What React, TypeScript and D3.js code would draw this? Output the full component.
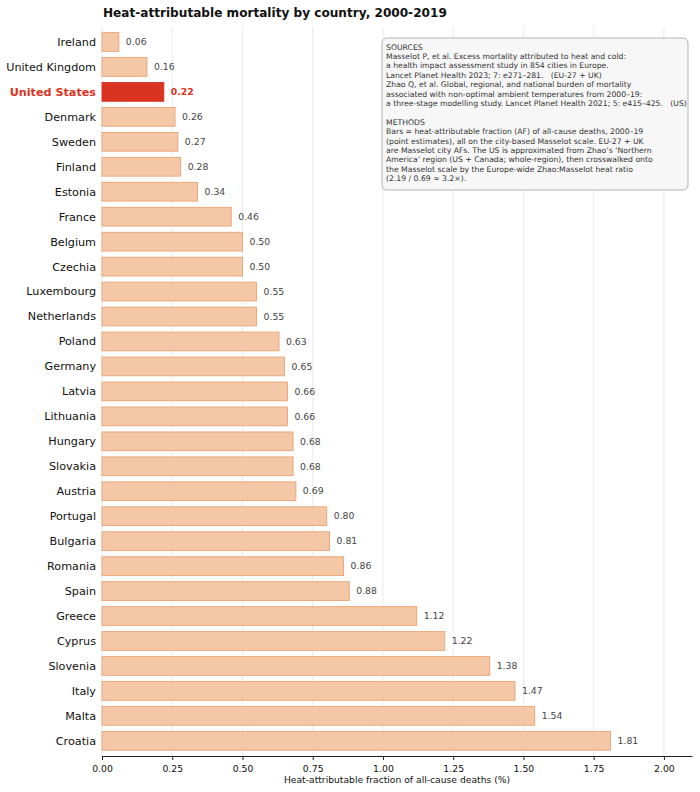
import { useEffect, useRef } from 'react';
import * as d3 from 'd3';

const countries = [
  'Ireland', 'United Kingdom', 'United States', 'Denmark', 'Sweden', 'Finland', 'Estonia',
  'France', 'Belgium', 'Czechia', 'Luxembourg', 'Netherlands', 'Poland', 'Germany', 'Latvia',
  'Lithuania', 'Hungary', 'Slovakia', 'Austria', 'Portugal', 'Bulgaria', 'Romania', 'Spain',
  'Greece', 'Cyprus', 'Slovenia', 'Italy', 'Malta', 'Croatia',
];
const heatAF = [
  0.06, 0.16, 0.22, 0.26, 0.27, 0.28, 0.34, 0.46, 0.5, 0.5, 0.55, 0.55, 0.63, 0.65, 0.66,
  0.66, 0.68, 0.68, 0.69, 0.8, 0.81, 0.86, 0.88, 1.12, 1.22, 1.38, 1.47, 1.54, 1.81,
];
const highlight = 'United States';
const xTicks = [0, 0.25, 0.5, 0.75, 1.0, 1.25, 1.5, 1.75, 2.0];

const noteLines = [
  'SOURCES',
  'Masselot P, et al. Excess mortality attributed to heat and cold:',
  'a health impact assessment study in 854 cities in Europe.',
  'Lancet Planet Health 2023; 7: e271\u2013281.   (EU-27 + UK)',
  'Zhao Q, et al. Global, regional, and national burden of mortality',
  'associated with non-optimal ambient temperatures from 2000\u201319:',
  'a three-stage modelling study. Lancet Planet Health 2021; 5: e415\u2013425.   (US)',
  '',
  'METHODS',
  'Bars = heat-attributable fraction (AF) of all-cause deaths, 2000\u201319',
  '(point estimates), all on the city-based Masselot scale. EU-27 + UK',
  'are Masselot city AFs. The US is approximated from Zhao\u2019s \u2018Northern',
  'America\u2019 region (US + Canada; whole-region), then crosswalked onto',
  'the Masselot scale by the Europe-wide Zhao:Masselot heat ratio',
  '(2.19 / 0.69 \u2248 3.2\u00d7).',
];

export default function App() {
  const ref = useRef<SVGSVGElement>(null);

  useEffect(() => {
    const width = 700;
    const height = 792;
    const margin = { top: 29.5, left: 102 };
    const axisY = 756;
    const font = 'DejaVu Sans, sans-serif';

    const svg = d3.select(ref.current);
    svg.selectAll('*').remove();
    svg.attr('viewBox', `0 0 ${width} ${height}`).attr('width', width).attr('height', height);
    svg.append('rect').attr('width', width).attr('height', height).attr('fill', '#fff');

    const data = countries.map((name, i) => ({ name, value: heatAF[i] }));

    const x = d3.scaleLinear().domain([0, 2.1]).range([margin.left, 692]);
    const y = d3
      .scaleBand()
      .domain(countries)
      .range([margin.top, 753.3])
      .paddingInner(0.25)
      .paddingOuter(0.125);

    // vertical grid
    svg
      .append('g')
      .selectAll('line')
      .data(xTicks)
      .join('line')
      .attr('x1', (d) => x(d))
      .attr('x2', (d) => x(d))
      .attr('y1', 27)
      .attr('y2', axisY)
      .attr('stroke', '#e5e5e5')
      .attr('stroke-width', 0.8);

    svg
      .append('g')
      .selectAll('rect')
      .data(data)
      .join('rect')
      .attr('x', x(0))
      .attr('y', (d) => y(d.name) ?? 0)
      .attr('width', (d) => x(d.value) - x(0))
      .attr('height', y.bandwidth())
      .attr('fill', (d) => (d.name === highlight ? '#d93321' : '#f4c8a6'))
      .attr('stroke', (d) => (d.name === highlight ? '#d93321' : '#e9a273'))
      .attr('stroke-width', 0.9);

    svg
      .append('g')
      .selectAll('text')
      .data(data)
      .join('text')
      .attr('x', (d) => x(d.value) + 7)
      .attr('y', (d) => (y(d.name) ?? 0) + y.bandwidth() / 2)
      .attr('dy', '0.35em')
      .attr('font-family', font)
      .attr('font-size', 9.3)
      .attr('font-weight', (d) => (d.name === highlight ? 'bold' : 'normal'))
      .attr('fill', (d) => (d.name === highlight ? '#d93321' : '#444'))
      .text((d) => d.value.toFixed(2));

    // country labels
    svg
      .append('g')
      .selectAll('text')
      .data(data)
      .join('text')
      .attr('x', margin.left - 6)
      .attr('y', (d) => (y(d.name) ?? 0) + y.bandwidth() / 2)
      .attr('dy', '0.35em')
      .attr('text-anchor', 'end')
      .attr('font-family', font)
      .attr('font-size', 11.2)
      .attr('font-weight', (d) => (d.name === highlight ? 'bold' : 'normal'))
      .attr('fill', (d) => (d.name === highlight ? '#d93321' : '#111'))
      .text((d) => d.name);

    const xAxis = svg
      .append('g')
      .attr('transform', `translate(0,${axisY})`)
      .call(
        d3
          .axisBottom(x)
          .tickValues(xTicks)
          .tickFormat((d) => d3.format('.2f')(d as number))
          .tickSize(4)
          .tickSizeOuter(0)
      );
    xAxis.select('.domain').attr('stroke', '#222').attr('stroke-width', 1);
    xAxis.selectAll('line').attr('stroke', '#222');
    xAxis
      .selectAll('text')
      .attr('font-family', font)
      .attr('font-size', 9.3)
      .attr('fill', '#111')
      .attr('dy', '0.95em');

    svg
      .append('text')
      .attr('x', (x(0) + 692) / 2)
      .attr('y', 783)
      .attr('text-anchor', 'middle')
      .attr('font-family', font)
      .attr('font-size', 9.2)
      .attr('fill', '#111')
      .text('Heat-attributable fraction of all-cause deaths (%)');

    svg
      .append('text')
      .attr('x', 103)
      .attr('y', 17)
      .attr('font-family', font)
      .attr('font-size', 12.1)
      .attr('font-weight', 'bold')
      .attr('fill', '#111')
      .text('Heat-attributable mortality by country, 2000-2019');

    // sources / methods note
    const note = svg.append('g').attr('transform', 'translate(382,38)');
    note
      .append('rect')
      .attr('width', 306)
      .attr('height', 152)
      .attr('rx', 5)
      .attr('fill', '#f7f7f7')
      .attr('stroke', '#aaa')
      .attr('stroke-width', 0.9);
    note
      .append('text')
      .attr('font-family', font)
      .attr('font-size', 7.7)
      .attr('fill', '#333')
      .style('white-space', 'pre')
      .selectAll('tspan')
      .data(noteLines)
      .join('tspan')
      .attr('x', 4)
      .attr('y', (_, i) => 11.5 + i * 9.4)
      .text((d) => d);
  }, []);

  return <svg ref={ref} style={{ display: 'block', position: 'absolute', left: 0, top: 0 }} />;
}
